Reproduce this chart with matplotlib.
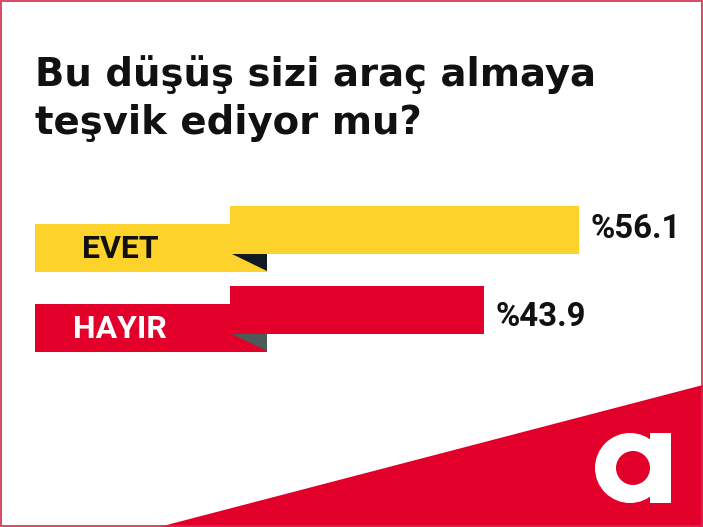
import matplotlib
matplotlib.use("Agg")
import numpy as np
import matplotlib.pyplot as plt
import matplotlib.patches as patch

# data
categories = ["EVET", "HAYIR"]
values = [56.1, 43.9]
title_lines = ["Bu düşüş sizi araç almaya", "teşvik ediyor mu?"]

# style
YELLOW = "#fdd22b"
RED = "#e2002b"
bar_colors = [YELLOW, RED]
fold_colors = ["#111a22", "#4b5b59"]
label_colors = ["#111111", "#ffffff"]
TITLE_FONT = "DejaVu Sans"
FONT = "Roboto"
W, H = 703, 527
PX_PER_UNIT = 7.75      # pixels per percent
ZERO_PX = 144           # pixel position of 0 %
BAR_START = (230 - ZERO_PX) / PX_PER_UNIT
ROW0_PX, ROW_STEP = 230, 80
value_dy = [0.10, 0.195]

fig = plt.figure(figsize=(W / 100, H / 100), dpi=100)

# background / decoration layer, pixel coordinates
bg = fig.add_axes([0, 0, 1, 1], zorder=0)
bg.set_xlim(0, W)
bg.set_ylim(H, 0)
bg.axis("off")
bg.add_patch(patch.Polygon([[159, H], [W, 385], [W, H]], closed=True, facecolor=RED, edgecolor="none"))
bg.add_patch(patch.Rectangle((1, 1), W - 2.5, H - 2.5, fill=False, edgecolor="#d6284f", linewidth=1.2))
# logo "a"
bg.add_patch(patch.Circle((630, 468), 35, facecolor="white", edgecolor="none"))
bg.add_patch(patch.Circle((633, 468), 17, facecolor=RED, edgecolor="none"))
bg.add_patch(patch.Rectangle((649.5, 433), 21.5, 70, facecolor="white", edgecolor="none"))

bg.text(35, 86, title_lines[0], fontsize=27.8, fontweight="bold", family=TITLE_FONT, color="#111111", va="baseline")
bg.text(35, 134, title_lines[1], fontsize=27.8, fontweight="bold", family=TITLE_FONT, color="#111111", va="baseline")

# bars layer, data coordinates
ax = fig.add_axes([0, 0, 1, 1], zorder=1)
ax.patch.set_alpha(0)
ax.set_xlim(-ZERO_PX / PX_PER_UNIT, (W - ZERO_PX) / PX_PER_UNIT)
ax.set_ylim((H - ROW0_PX) / ROW_STEP, -ROW0_PX / ROW_STEP)
ax.axis("off")
y = np.arange(len(categories))
widths = [v - BAR_START for v in values]
ax.barh(y, widths, left=BAR_START, height=0.6, color=bar_colors)
for i, v in enumerate(values):
    ax.text(v + 1.45, i + value_dy[i], "%" + f"{v:.1f}", fontsize=23.8, fontweight="bold",
            family=FONT, color="#111111", va="baseline", ha="left")

# label blocks layer, pixel coordinates
lab = fig.add_axes([0, 0, 1, 1], zorder=2)
lab.patch.set_alpha(0)
lab.set_xlim(0, W)
lab.set_ylim(H, 0)
lab.axis("off")
for i, name in enumerate(categories):
    cy = ROW0_PX + i * ROW_STEP
    lab.add_patch(patch.Rectangle((35, cy - 6), 232, 47.5, facecolor=bar_colors[i], edgecolor="none"))
    yb = cy + 24
    lab.add_patch(patch.Polygon([[232, yb], [267, yb], [267, yb + 17]], closed=True,
                                facecolor=fold_colors[i], edgecolor="none"))
    lab.text(120, cy + 28.3, name, fontsize=23, fontweight="bold", family=FONT,
             color=label_colors[i], ha="center", va="baseline")

fig.savefig("out.png", dpi=100)
